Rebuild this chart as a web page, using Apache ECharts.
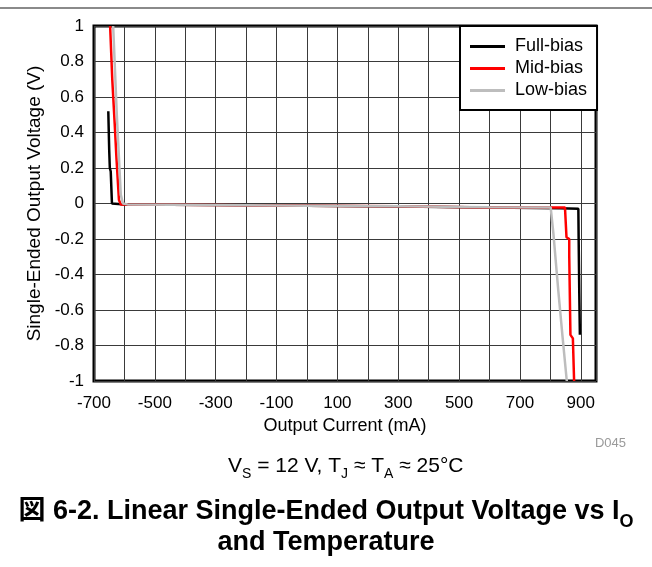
<!DOCTYPE html>
<html>
<head>
<meta charset="utf-8">
<script src="https://cdn.jsdelivr.net/npm/echarts@6/dist/echarts.min.js"></script>
<style>
  html, body { margin: 0; padding: 0; background: #fff; }
  #chart { width: 652px; height: 567px; }
</style>
</head>
<body>
<div id="chart"></div>
<script>
// values (current in mA, voltage in V)
var fullBiasI = [-653, -650, -648, -645, -641, -636, -600, -300, 0, 300, 600, 830, 892, 893, 895, 897];
var fullBiasV = [0.52, 0.3, 0.2, 0.18, 0.0, -0.005, -0.006, -0.009, -0.013, -0.017, -0.023, -0.027, -0.03, -0.2, -0.5, -0.74];

var midBiasI = [-647, -640, -632, -626, -618, -612, -590, -300, 0, 300, 600, 848, 853, 862, 862, 865, 866, 874, 878];
var midBiasV = [1.0, 0.7, 0.45, 0.25, 0.02, -0.005, -0.006, -0.009, -0.012, -0.016, -0.022, -0.022, -0.19, -0.2, -0.29, -0.3, -0.74, -0.76, -1.0];

var lowBiasI = [-637, -625, -612, -605, -590, -300, 0, 300, 600, 801, 810, 826, 840, 854];
var lowBiasV = [1.0, 0.5, 0.05, 0.0, -0.005, -0.008, -0.012, -0.016, -0.021, -0.022, -0.17, -0.49, -0.75, -1.0];

var seriesNames = ['Full-bias', 'Mid-bias', 'Low-bias'];
var seriesColors = ['#000000', '#ff0000', '#bdbdbd'];

function zip(xs, ys) {
  return xs.map(function (x, i) { return [x, ys[i]]; });
}

var font = 'Liberation Sans, Arial, Helvetica, sans-serif';
var chart = echarts.init(document.getElementById('chart'), null, { renderer: 'canvas' });

chart.setOption({
  animation: false,
  backgroundColor: '#fff',
  textStyle: { fontFamily: font, color: '#000' },
  grid: {
    left: 94, right: 56, top: 26, bottom: 186,
    show: true,
    borderColor: '#000',
    borderWidth: 3,
    backgroundColor: 'transparent'
  },
  xAxis: {
    type: 'value',
    min: -700, max: 950, interval: 100,
    name: 'Output Current (mA)',
    nameLocation: 'middle',
    nameGap: 36,
    nameTextStyle: { fontSize: 18, color: '#000', fontFamily: font },
    axisLine: { show: false },
    axisTick: { show: false },
    axisLabel: {
      fontSize: 17, color: '#000', margin: 14, fontFamily: font,
      formatter: function (v) {
        return ((v + 700) % 200 === 0 && v <= 900) ? String(v) : '';
      }
    },
    splitLine: { show: true, lineStyle: { color: '#3a3a3a', width: 1 } }
  },
  yAxis: {
    type: 'value',
    min: -1, max: 1, interval: 0.2,
    name: 'Single-Ended Output Voltage (V)',
    nameLocation: 'middle',
    nameRotate: 90,
    nameGap: 47,
    nameTextStyle: { fontSize: 19, color: '#000', fontFamily: font },
    axisLine: { show: false },
    axisTick: { show: false },
    axisLabel: {
      fontSize: 17, color: '#000', margin: 10, fontFamily: font,
      formatter: function (v) { return String(Number(v.toFixed(1))); }
    },
    splitLine: { show: true, lineStyle: { color: '#3a3a3a', width: 1 } }
  },
  legend: {
    orient: 'vertical',
    left: 460,
    top: 26,
    padding: [11, 10, 10, 10],
    itemWidth: 35,
    itemHeight: 3,
    itemGap: 3,
    icon: 'rect',
    backgroundColor: '#fff',
    borderColor: '#000',
    borderWidth: 2,
    textStyle: { fontSize: 18, lineHeight: 19, color: '#000', fontFamily: font, padding: [0, 0, 0, 5] },
    data: seriesNames
  },
  title: [
    {
      text: '{n|V}{s|S}{n| = 12 V, T}{s|J}{n| ≈ T}{s|A}{n| ≈ 25°C}',
      left: 223, top: 451,
      textStyle: {
        fontFamily: font,
        fontWeight: 'normal',
        rich: {
          n: { fontSize: 21, fontWeight: 'normal', color: '#000', fontFamily: font, lineHeight: 22, verticalAlign: 'top' },
          s: { fontSize: 14, fontWeight: 'normal', color: '#000', fontFamily: font, lineHeight: 14, padding: [11, 0, 0, 0], verticalAlign: 'top' }
        }
      }
    },
    {
      text: '{b|図 6-2. Linear Single-Ended Output Voltage vs I}{bs|O}',
      left: 'center', top: 493,
      textStyle: {
        rich: {
          b: { fontSize: 27, fontWeight: 'bold', color: '#000', lineHeight: 30, verticalAlign: 'top',
               fontFamily: 'Liberation Sans, Arial, Noto Sans CJK JP, sans-serif' },
          bs: { fontSize: 18, fontWeight: 'bold', color: '#000', lineHeight: 18, padding: [15, 0, 0, 0], verticalAlign: 'top',
                fontFamily: font }
        }
      }
    },
    {
      text: 'and Temperature',
      left: 'center', top: 524,
      textStyle: { fontSize: 27, fontWeight: 'bold', color: '#000', fontFamily: font }
    },
    {
      text: 'D045',
      right: 21, top: 432,
      textStyle: { fontSize: 13, fontWeight: 'normal', color: '#9a9a9a', fontFamily: font }
    }
  ],
  graphic: [
    {
      type: 'line',
      shape: { x1: 0, y1: 8, x2: 652, y2: 8 },
      style: { stroke: '#8a8a8a', lineWidth: 2 },
      silent: true
    }
  ],
  series: [
    { name: seriesNames[0], type: 'line', data: zip(fullBiasI, fullBiasV) },
    { name: seriesNames[1], type: 'line', data: zip(midBiasI, midBiasV) },
    { name: seriesNames[2], type: 'line', data: zip(lowBiasI, lowBiasV) }
  ].map(function (s, i) {
    s.showSymbol = false;
    s.symbol = 'none';
    s.clip = true;
    s.color = seriesColors[i];
    s.lineStyle = { color: seriesColors[i], width: 2.5 };
    s.itemStyle = { color: seriesColors[i] };
    s.z = 3 + i;
    return s;
  })
});
</script>
</body>
</html>
